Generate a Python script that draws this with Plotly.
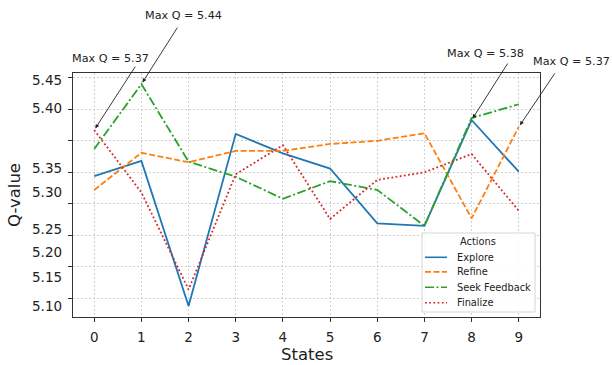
import plotly.graph_objects as go

# ---- data -------------------------------------------------------------
states = list(range(10))
actions = ["Explore", "Refine", "Seek Feedback", "Finalize"]
q_explore = [5.294, 5.318, 5.088, 5.361, 5.330, 5.306, 5.219, 5.215, 5.383, 5.301]
q_refine = [5.272, 5.331, 5.316, 5.334, 5.334, 5.345, 5.350, 5.362, 5.227, 5.372]
q_seek = [5.337, 5.440, 5.317, 5.293, 5.258, 5.286, 5.272, 5.215, 5.386, 5.408]
q_finalize = [5.367, 5.268, 5.114, 5.297, 5.343, 5.226, 5.288, 5.300, 5.329, 5.239]
series = [q_explore, q_refine, q_seek, q_finalize]

ytick_vals = [5.10, 5.15, 5.20, 5.25, 5.30, 5.35, 5.40, 5.45]
ytick_text = ["5.45", "5.40", "5.35", "5.30", "5.25", "5.20", "5.15", "5.10"]
ytick_text_at = [5.4465, 5.4016, 5.3063, 5.2687, 5.2095, 5.1730, 5.1333, 5.0878]

# ---- styles -----------------------------------------------------------
colors = ["#1f77b4", "#ff7f0e", "#2ca02c", "#d62728"]
dashes = ["solid", "6px,2.5px", "9px,2.5px,2px,2.5px", "1.8px,2.4px"]
# (arrow tail dx, dy) and (label dx, dy) in pixels, relative to each maximum
arrow_offsets = [(37, -58), (37, -55), (37, -58), (42, -65)]
label_offsets = [(14, 67), (52.5, 65), (42.5, 69), (16.5, 71.5)]

FONT = "DejaVu Sans"
W, H = 612, 365
ML, MR, MT, MB = 73, 72, 73, 48
PW, PH = W - ML - MR, H - MT - MB


def px_x(p):
    return (p - ML) / PW


def px_y(p):
    return (H - MB - p) / PH


fig = go.Figure()
for name, vals, col, dash in zip(actions, series, colors, dashes):
    fig.add_trace(go.Scatter(
        x=states, y=vals, mode="lines", name=name,
        line=dict(color=col, width=1.8, dash=dash),
        showlegend=False,
    ))

annotations = []

# maxima call-outs
for vals, (ax, ay), (lx, ly) in zip(series, arrow_offsets, label_offsets):
    i = max(range(len(vals)), key=lambda k: vals[k])
    annotations.append(dict(
        x=states[i], y=vals[i], xref="x", yref="y", text="",
        showarrow=True, ax=ax, ay=ay, arrowhead=2, arrowsize=0.9,
        arrowwidth=0.9, arrowcolor="#222", standoff=2,
    ))
    annotations.append(dict(
        x=states[i], y=vals[i], xref="x", yref="y",
        text=f"Max Q = {vals[i]:.2f}", showarrow=False,
        xshift=lx, yshift=ly, font=dict(family=FONT, size=11.2, color="#222"),
    ))

# y tick labels
for t, v in zip(ytick_text, ytick_text_at):
    annotations.append(dict(
        x=0, y=v, xref="paper", yref="y", text=t, showarrow=False,
        xanchor="right", yanchor="middle", xshift=-9,
        font=dict(family=FONT, size=13.5, color="#222"),
    ))

# axis titles
annotations.append(dict(
    x=0.5, y=px_y(365), xref="paper", yref="paper", text="States",
    showarrow=False, xanchor="center", yanchor="bottom", borderpad=0,
    font=dict(family=FONT, size=16.5, color="#222"),
))
annotations.append(dict(
    x=px_x(14.5), y=px_y(195.5), xref="paper", yref="paper", text="Q-value",
    showarrow=False, xanchor="center", yanchor="middle", textangle=-90,
    font=dict(family=FONT, size=16.5, color="#222"),
))

# legend
shapes = [dict(
    type="rect", xref="paper", yref="paper",
    x0=px_x(422), x1=px_x(535), y0=px_y(312), y1=px_y(233),
    line=dict(color="#d5d5d5", width=1), fillcolor="rgba(255,255,255,0.85)",
    layer="above",
)]
annotations.append(dict(
    x=px_x(477.5), y=px_y(241), xref="paper", yref="paper", text="Actions",
    showarrow=False, xanchor="center", yanchor="middle",
    font=dict(family=FONT, size=9.8, color="#222"),
))
legend_rows = [257.3, 271.9, 287.3, 302.7]
for name, col, dash, ry in zip(actions, colors, dashes, legend_rows):
    shapes.append(dict(
        type="line", xref="paper", yref="paper",
        x0=px_x(425), x1=px_x(447), y0=px_y(ry), y1=px_y(ry),
        line=dict(color=col, width=1.6, dash=dash), layer="above",
    ))
    annotations.append(dict(
        x=px_x(455), y=px_y(ry), xref="paper", yref="paper", text=name,
        showarrow=False, xanchor="left", yanchor="middle",
        font=dict(family=FONT, size=9.8, color="#222"),
    ))

all_vals = [v for s in series for v in s]
lo, hi = min(all_vals), max(all_vals)
pad = 0.05 * (hi - lo)

fig.update_layout(
    width=W, height=H, autosize=False,
    margin=dict(l=ML, r=MR, t=MT, b=MB),
    paper_bgcolor="white", plot_bgcolor="white",
    font=dict(family=FONT, color="#222"),
    annotations=annotations, shapes=shapes,
    xaxis=dict(
        automargin=False,
        range=[-0.45, 9.45], tickvals=states, ticktext=[str(s) for s in states],
        ticks="outside", ticklen=4, tickcolor="#333", tickwidth=1,
        ticklabelstandoff=4,
        showline=True, linecolor="#333", linewidth=1, mirror=True,
        showgrid=True, gridcolor="#cfcfcf", gridwidth=1, griddash="2px,2px",
        zeroline=False, tickfont=dict(family=FONT, size=13.5, color="#222"),
    ),
    yaxis=dict(
        automargin=False,
        range=[lo - pad, hi + pad], tickvals=ytick_vals, showticklabels=False,
        ticks="outside", ticklen=4, tickcolor="#333", tickwidth=1,
        showline=True, linecolor="#333", linewidth=1, mirror=True,
        showgrid=True, gridcolor="#cfcfcf", gridwidth=1, griddash="2px,2px",
        zeroline=False,
    ),
)

fig.write_html("out.html")
